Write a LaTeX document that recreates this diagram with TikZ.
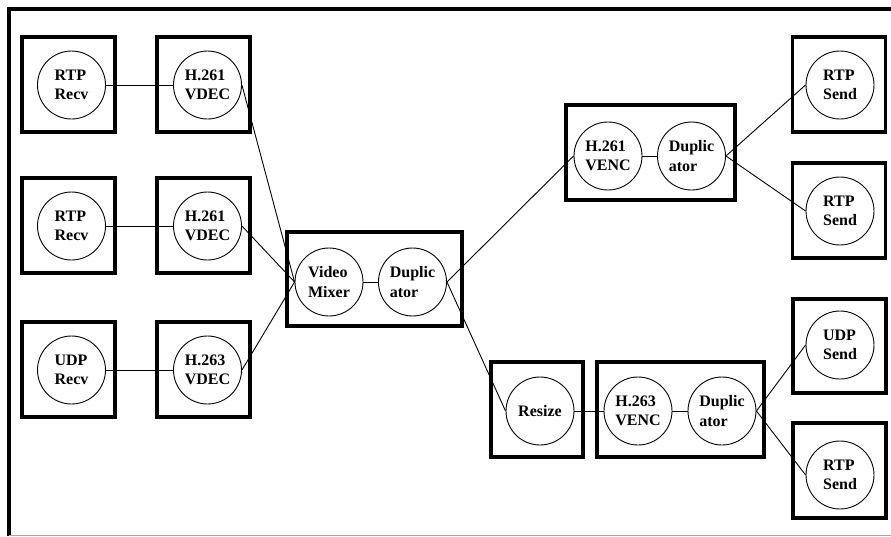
\documentclass[tikz,border=0pt]{standalone}
\usepackage{fontspec}
\setmainfont{Liberation Serif}
\begin{document}
\begin{tikzpicture}[x=1pt,y=-1pt,
  box/.style={draw,line width=3.5pt,rectangle,inner sep=0pt,minimum width=93pt,minimum height=95pt},
  proc/.style={draw,line width=0.9pt,circle,inner sep=0pt,minimum size=68pt,align=left,
    font=\fontsize{16}{19.5}\selectfont\bfseries},
  conn/.style={line width=0.9pt}]
\useasboundingbox (0,0) rectangle (891,536);
% frame
\draw[line width=3.5pt] (9,536) -- (9,9) -- (891,9);
\draw[line width=1pt,gray!70] (9,535.5) -- (891,535.5);
% boxes
\node[box] (bR1) at (68.5,84.5) {};
\node[box] (bD1) at (203.5,84.5) {};
\node[box] (bR2) at (68.5,225.5) {};
\node[box] (bD2) at (203.5,225.5) {};
\node[box] (bR3) at (68.5,369.5) {};
\node[box] (bD3) at (203.5,369.5) {};
\node[box,minimum width=175pt,minimum height=94pt] (bMix) at (374.5,279) {};
\node[box,minimum width=169pt] (bVenc1) at (650.5,152.5) {};
\node[box] (bS1) at (839,84.5) {};
\node[box] (bS2) at (839,210.5) {};
\node[box,minimum width=92pt] (bRes) at (537,409.5) {};
\node[box,minimum width=167pt] (bVenc2) at (680.5,409.5) {};
\node[box,minimum height=94pt] (bS3) at (839.5,346) {};
\node[box] (bS4) at (839.5,470.5) {};
% circles
\node[proc] (cR1) at (71.5,85) {RTP\\Recv};
\node[proc] (cD1) at (207.5,85) {H.261\\VDEC};
\node[proc] (cR2) at (71.5,226) {RTP\\Recv};
\node[proc] (cD2) at (207.5,226) {H.261\\VDEC};
\node[proc] (cR3) at (71.5,370) {UDP\\Recv};
\node[proc] (cD3) at (207.5,370) {H.263\\VDEC};
\node[proc] (cMix) at (329,282) {Video\\Mixer};
\node[proc] (cDup1) at (412.5,282) {Duplic\\ator};
\node[proc] (cVenc1) at (608,156) {H.261\\VENC};
\node[proc] (cDup2) at (691.5,156) {Duplic\\ator};
\node[proc] (cS1) at (840,85) {RTP\\Send};
\node[proc] (cS2) at (840,211) {RTP\\Send};
\node[proc] (cRes) at (540,411) {Resize};
\node[proc] (cVenc2) at (638,411) {H.263\\VENC};
\node[proc] (cDup3) at (722,411) {Duplic\\ator};
\node[proc] (cS3) at (840,345) {UDP\\Send};
\node[proc] (cS4) at (840,475) {RTP\\Send};
% connectors
\draw[conn] (cR1.east) -- (cD1.west);
\draw[conn] (cR2.east) -- (cD2.west);
\draw[conn] (cR3.east) -- (cD3.west);
\draw[conn] (cD1.east) -- (cMix.west);
\draw[conn] (cD2.east) -- (cMix.west);
\draw[conn] (cD3.east) -- (cMix.west);
\draw[conn] (cMix.east) -- (cDup1.west);
\draw[conn] (cDup1.east) -- (cVenc1.west);
\draw[conn] (cDup1.east) -- (cRes.west);
\draw[conn] (cVenc1.east) -- (cDup2.west);
\draw[conn] (cDup2.east) -- (cS1.west);
\draw[conn] (cDup2.east) -- (cS2.west);
\draw[conn] (cRes.east) -- (cVenc2.west);
\draw[conn] (cVenc2.east) -- (cDup3.west);
\draw[conn] (cDup3.east) -- (cS3.west);
\draw[conn] (cDup3.east) -- (cS4.west);
\end{tikzpicture}
\end{document}
